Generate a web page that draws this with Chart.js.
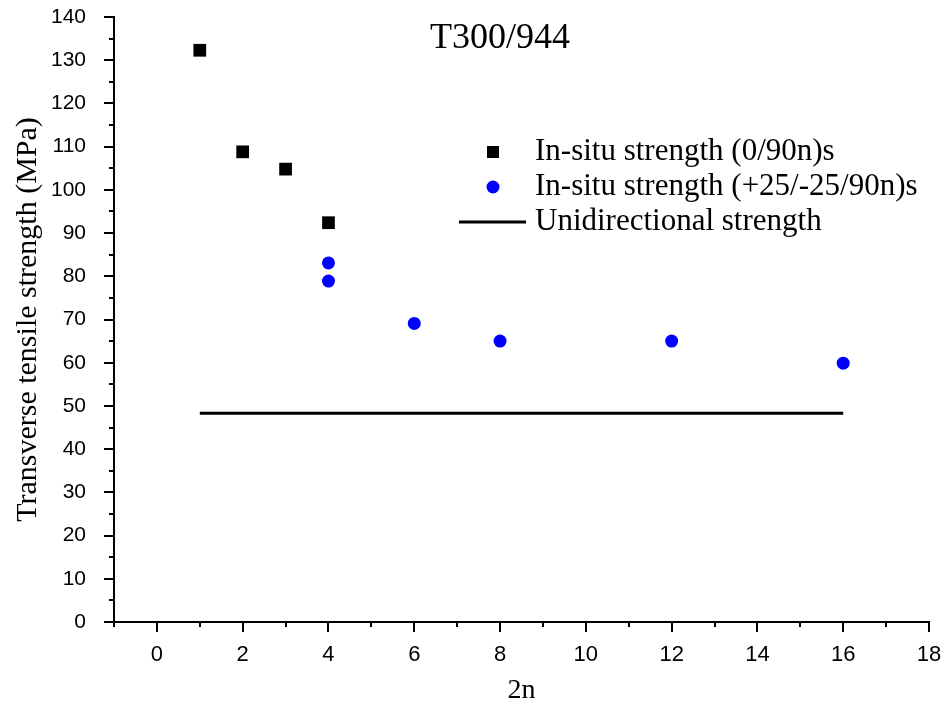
<!DOCTYPE html>
<html lang="en">
<head>
  <meta charset="UTF-8">
  <title>T300/944 in-situ strength</title>
  <script src="https://cdn.jsdelivr.net/npm/chart.js"></script>
  <style>
    body {
      margin: 0;
      background: #ffffff;
    }
    #wrap {
      width: 943px;
      height: 716px;
    }
  </style>
</head>
<body>
  <div id="wrap"><canvas id="strengthChart" width="943" height="716"></canvas></div>
  <script>
    // data
    const chartTitle = 'T300/944';
    const xTickValues = [0, 2, 4, 6, 8, 10, 12, 14, 16, 18];
    const yTickValues = [0, 10, 20, 30, 40, 50, 60, 70, 80, 90, 100, 110, 120, 130, 140];

    const squareLabel = 'In-situ strength (0/90n)s';
    const squareX = [1, 2, 3, 4];
    const squareY = [132.3, 108.8, 104.8, 92.4];

    const circleLabel = 'In-situ strength (+25/-25/90n)s';
    const circleX = [4, 4, 6, 8, 12, 16];
    const circleY = [83.1, 78.9, 69.1, 65.0, 65.0, 59.9];

    const lineLabel = 'Unidirectional strength';
    const lineX = [1, 16];
    const lineY = [48.3, 48.3];

    const toPoints = (xs, ys) => xs.map((x, i) => ({ x: x, y: ys[i] }));

    const serif = "'Liberation Serif', 'DejaVu Serif', serif";
    const sans = "'Liberation Sans Narrow', 'Liberation Sans', sans-serif";

    // drop the label overhang padding so the plot area sits where the layout says
    const noOverhang = s => {
      s.paddingTop = 0; s.paddingBottom = 0;
      s.paddingLeft = 0; s.paddingRight = 0;
    };

    // minor/major tick marks, title and legend drawn on top
    const extras = {
      id: 'extras',
      afterDraw(chart) {
        const c = chart.ctx;
        const xs = chart.scales.x, ys = chart.scales.y;
        const area = chart.chartArea;
        c.save();
        c.strokeStyle = '#000';
        c.lineWidth = 2;
        for (let v = -1; v <= 18; v++) {
          const px = Math.round(xs.getPixelForValue(v));
          const len = v % 2 === 0 ? 10 : 5;
          c.beginPath();
          c.moveTo(px, area.bottom);
          c.lineTo(px, area.bottom + len);
          c.stroke();
        }
        for (let v = 0; v <= 140; v += 5) {
          const py = Math.round(ys.getPixelForValue(v));
          const len = v % 10 === 0 ? 10 : 5;
          c.beginPath();
          c.moveTo(area.left, py);
          c.lineTo(area.left - len, py);
          c.stroke();
        }

        c.fillStyle = '#000';
        c.font = '36px ' + serif;
        c.textAlign = 'center';
        c.textBaseline = 'alphabetic';
        c.fillText(chartTitle, 500, 48);

        // legend
        const rows = [152, 187, 222];
        c.textAlign = 'left';
        c.font = '31px ' + serif;
        chart.data.datasets.forEach((ds, i) => {
          const y = rows[i];
          c.fillStyle = ds.backgroundColor;
          if (ds.pointStyle === 'rect') {
            c.fillRect(487, y - 6, 12, 12);
          } else if (ds.pointStyle === 'circle') {
            c.beginPath();
            c.arc(493, y, 6.5, 0, Math.PI * 2);
            c.fill();
          } else {
            c.strokeStyle = ds.borderColor;
            c.lineWidth = 3;
            c.beginPath();
            c.moveTo(459, y);
            c.lineTo(526, y);
            c.stroke();
          }
          c.fillStyle = '#000';
          c.fillText(ds.label, 535, y + 8);
        });
        c.restore();
      }
    };

    new Chart(document.getElementById('strengthChart').getContext('2d'), {
      type: 'scatter',
      data: {
        datasets: [
          {
            label: squareLabel,
            data: toPoints(squareX, squareY),
            pointStyle: 'rect',
            pointRadius: 9,
            backgroundColor: '#000000',
            borderColor: '#000000',
            borderWidth: 0
          },
          {
            label: circleLabel,
            data: toPoints(circleX, circleY),
            pointStyle: 'circle',
            pointRadius: 6.5,
            backgroundColor: '#0000ff',
            borderColor: '#0000ff',
            borderWidth: 0
          },
          {
            label: lineLabel,
            data: toPoints(lineX, lineY),
            showLine: true,
            pointStyle: false,
            pointRadius: 0,
            borderColor: '#000000',
            backgroundColor: '#000000',
            borderWidth: 3
          }
        ]
      },
      options: {
        responsive: false,
        animation: false,
        layout: { padding: { top: 17, right: 14, left: 0, bottom: 0 } },
        plugins: {
          legend: { display: false },
          tooltip: { enabled: false }
        },
        scales: {
          x: {
            type: 'linear',
            min: -1,
            max: 18,
            afterBuildTicks: s => { s.ticks = xTickValues.map(v => ({ value: v })); },
            afterFit: s => { s.height = 94; noOverhang(s); },
            grid: { display: false },
            border: { display: true, color: '#000', width: 2 },
            ticks: { color: '#000', padding: 12, font: { family: sans, size: 22 } },
            title: {
              display: true,
              text: '2n',
              color: '#000',
              font: { family: serif, size: 28 },
              padding: { top: 4, bottom: 9 }
            }
          },
          y: {
            type: 'linear',
            min: 0,
            max: 140,
            afterBuildTicks: s => { s.ticks = yTickValues.map(v => ({ value: v })); },
            afterFit: s => { s.width = 114; noOverhang(s); },
            grid: { display: false },
            border: { display: true, color: '#000', width: 2 },
            ticks: { color: '#000', padding: 20, font: { family: sans, size: 21 } },
            title: {
              display: true,
              text: 'Transverse tensile strength (MPa)',
              color: '#000',
              font: { family: serif, size: 30 },
              padding: { top: 10, bottom: 4 }
            }
          }
        }
      },
      plugins: [extras]
    });
  </script>
</body>
</html>
